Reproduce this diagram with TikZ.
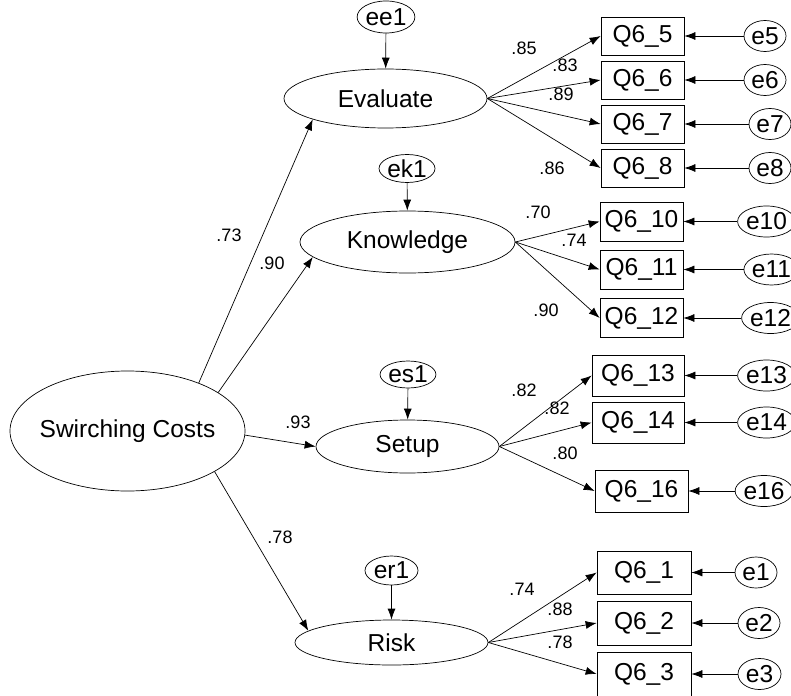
\documentclass[tikz,border=0pt]{standalone}
\usepackage{fontspec}
\setmainfont{Liberation Sans}
\usetikzlibrary{shapes.geometric,arrows.meta}
\begin{document}
\begin{tikzpicture}[x=1pt,y=-1pt,
  latent/.style={ellipse,draw,line width=0.7pt,inner sep=0pt,font=\fontsize{24.5}{24.5}\selectfont},
  errvar/.style={ellipse,draw,line width=0.7pt,inner sep=0pt,minimum width=44pt,minimum height=31pt,font=\fontsize{24.5}{24.5}\selectfont},
  item/.style={rectangle,draw,line width=0.7pt,inner sep=0pt,minimum width=83pt,minimum height=39pt,font=\fontsize{24.5}{24.5}\selectfont},
  link/.style={-{Latex[length=11pt,width=8pt]},line width=0.7pt},
  coef/.style={font=\fontsize{18}{18}\selectfont,inner sep=0pt}]
\useasboundingbox (0,0) rectangle (791,695);

% second-order factor
\node[latent,inner xsep=-30pt,minimum width=235pt,minimum height=120pt] (sc) at (127.5,431) {Swirching Costs};

% first-order factors
\node[latent,minimum width=203pt,minimum height=59pt] (ev) at (385.5,98.5) {Evaluate};
\node[latent,minimum width=215pt,minimum height=62pt] (kn) at (407.5,242) {Knowledge};
\node[latent,minimum width=183pt,minimum height=53pt] (st) at (407.5,446.5) {Setup};
\node[latent,minimum width=193pt,minimum height=45pt] (rk) at (391.5,642.5) {Risk};

% disturbances
\node[latent,minimum width=48pt,minimum height=32pt] (ee1) at (386,17) {ee1};
\node[latent,minimum width=56pt,minimum height=28pt] (ek1) at (407,168.5) {ek1};
\node[latent,minimum width=54pt,minimum height=27pt] (es1) at (408,374.5) {es1};
\node[latent,minimum width=53pt,minimum height=29pt] (er1) at (391.5,570.5) {er1};

% observed items
\node[item,minimum height=38pt] (q5) at (642.5,36) {Q6\_5};
\node[item,minimum height=38pt] (q6) at (642.5,80) {Q6\_6};
\node[item,minimum height=38pt] (q7) at (642.5,124) {Q6\_7};
\node[item,minimum height=38pt] (q8) at (642.5,168) {Q6\_8};
\node[item] (q10) at (641.5,221.5) {Q6\_10};
\node[item] (q11) at (641.5,269.5) {Q6\_11};
\node[item] (q12) at (641.5,318) {Q6\_12};
\node[item,minimum width=92pt,minimum height=41pt] (q13) at (638,375.5) {Q6\_13};
\node[item,minimum width=92pt,minimum height=41pt] (q14) at (638,422.5) {Q6\_14};
\node[item,minimum width=93pt,minimum height=42pt] (q16) at (641.5,491) {Q6\_16};
\node[item,minimum width=94pt,minimum height=43pt] (q1) at (644,572.5) {Q6\_1};
\node[item,minimum width=94pt,minimum height=44pt] (q2) at (644,623) {Q6\_2};
\node[item,minimum width=94pt,minimum height=44pt] (q3) at (644,674) {Q6\_3};

% measurement errors
\node[errvar,minimum width=42pt] (e5) at (765,36) {e5};
\node[errvar,minimum width=42pt] (e6) at (765,80) {e6};
\node[errvar,minimum width=42pt] (e7) at (770,124) {e7};
\node[errvar,minimum width=42pt] (e8) at (770,168) {e8};
\node[errvar,minimum width=47pt] (e10) at (766.5,221.5) {e10};
\node[errvar,minimum width=47pt] (e11) at (771.5,269.5) {e11};
\node[errvar,minimum width=47pt] (e12) at (770.5,318) {e12};
\node[errvar,minimum width=47pt] (e13) at (766.5,375.5) {e13};
\node[errvar,minimum width=47pt] (e14) at (766.5,422.5) {e14};
\node[errvar,minimum width=46pt] (e16) at (764,491) {e16};
\node[errvar,minimum width=42pt] (e1) at (756,572.5) {e1};
\node[errvar,minimum width=42pt] (e2) at (759,623) {e2};
\node[errvar,minimum width=43pt] (e3) at (759.5,674) {e3};

% structural paths
\draw[link] (sc.34) -- (ev.196);
\draw[link] (sc.23) -- (kn.189);
\draw[link] (sc.-2) -- (st.west);
\draw[link] (sc.-25) -- (rk.172);

% disturbance paths
\draw[link] (ee1) -- (ev);
\draw[link] (ek1) -- (kn);
\draw[link] (es1) -- (st);
\draw[link] (er1) -- (rk);

% loadings
\foreach \q in {q5,q6,q7,q8} \draw[link] (ev.east) -- (\q.west);
\foreach \q in {q10,q11,q12} \draw[link] (kn.east) -- (\q.west);
\foreach \q in {q13,q14,q16} \draw[link] (st.east) -- (\q.west);
\foreach \q in {q1,q2,q3} \draw[link] (rk.east) -- (\q.west);

% error paths
\foreach \e/\q in {e5/q5,e6/q6,e7/q7,e8/q8,e10/q10,e11/q11,e12/q12,e13/q13,e14/q14,e16/q16,e1/q1,e2/q2,e3/q3}
  \draw[link] (\e) -- (\q);

% coefficients
\node[coef] (c1) at (229,235) {.73};
\node[coef] (c2) at (272,263) {.90};
\node[coef] (c3) at (298,422) {.93};
\node[coef] (c4) at (280,537) {.78};
\node[coef] (c5) at (524,48) {.85};
\node[coef] (c6) at (565,65) {.83};
\node[coef] (c7) at (561,94) {.89};
\node[coef] (c8) at (552,168) {.86};
\node[coef] (c9) at (538,212) {.70};
\node[coef] (c10) at (574,240) {.74};
\node[coef] (c11) at (546,310) {.90};
\node[coef] (c12) at (524,390) {.82};
\node[coef] (c13) at (557,408) {.82};
\node[coef] (c14) at (565,453) {.80};
\node[coef] (c15) at (522,589) {.74};
\node[coef] (c16) at (560,609) {.88};
\node[coef] (c17) at (560,642) {.78};
\end{tikzpicture}
\end{document}
